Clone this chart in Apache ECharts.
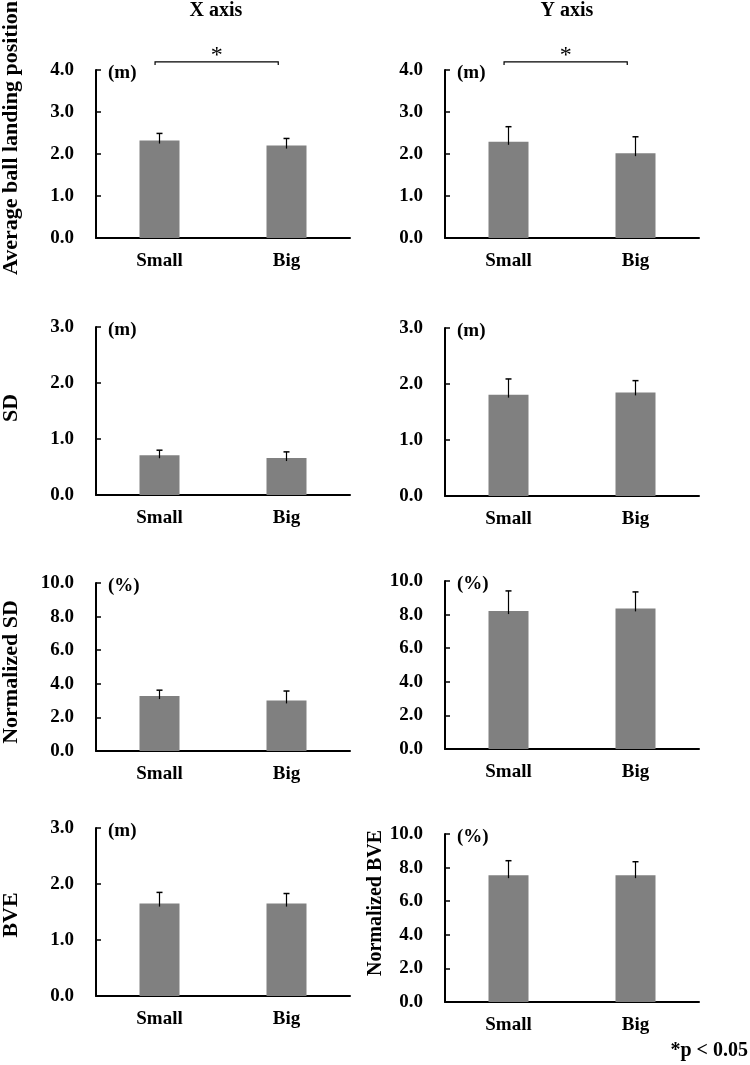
<!DOCTYPE html>
<html>
<head>
<meta charset="utf-8">
<script src="https://cdn.jsdelivr.net/npm/echarts@6/dist/echarts.min.js"></script>
<style>html,body{margin:0;padding:0;background:#fff;}#c{width:750px;height:1065px;}</style>
</head>
<body>
<div id="c"></div>
<script>
// ---- data ----
const categories = ['Small', 'Big'];
const colTitles = ['X axis', 'Y axis'];
const rowTitles = ['Average ball landing position', 'SD', 'Normalized SD', 'BVE', 'Normalized BVE'];

const avgPosX = [2.32, 2.20];   const avgPosXErr = [0.17, 0.17];
const avgPosY = [2.29, 2.02];   const avgPosYErr = [0.36, 0.39];
const sdX = [0.71, 0.66];       const sdXErr = [0.09, 0.11];
const sdY = [1.81, 1.85];       const sdYErr = [0.28, 0.21];
const normSdX = [3.27, 3.01];   const normSdXErr = [0.35, 0.56];
const normSdY = [8.21, 8.37];   const normSdYErr = [1.20, 0.98];
const bveX = [1.65, 1.65];      const bveXErr = [0.20, 0.18];
const normBveY = [7.55, 7.55];  const normBveYErr = [0.86, 0.80];

const yMaxes = [4, 4, 3, 3, 10, 10, 3, 10];
const yIntervals = [1, 1, 1, 1, 2, 2, 1, 2];
const units = ['(m)', '(m)', '(m)', '(m)', '(%)', '(%)', '(m)', '(%)'];
const significance = [true, true, false, false, false, false, false, false];
const footnote = '*p < 0.05';

const means = [avgPosX, avgPosY, sdX, sdY, normSdX, normSdY, bveX, normBveY];
const errs = [avgPosXErr, avgPosYErr, sdXErr, sdYErr, normSdXErr, normSdYErr, bveXErr, normBveYErr];

// ---- layout ----
const FONT = "'Liberation Serif','Times New Roman',serif";
const gridLefts = [96, 445];
const gridWidth = 254;
const gridTops = [70, 70, 327, 328, 583, 581, 828, 834];
const gridHeight = 168;

const chart = echarts.init(document.getElementById('c'), null, {renderer: 'canvas'});

const grids = [], xAxes = [], yAxes = [], series = [];
for (let i = 0; i < 8; i++) {
  grids.push({left: gridLefts[i % 2], top: gridTops[i], width: gridWidth, height: gridHeight, containLabel: false});
  xAxes.push({
    type: 'category', gridIndex: i, data: categories, boundaryGap: true,
    axisLine: {show: true, lineStyle: {color: '#000', width: 2}},
    axisTick: {show: false},
    axisLabel: {color: '#000', fontFamily: FONT, fontWeight: 'bold', fontSize: 19, margin: 14},
    splitLine: {show: false}
  });
  yAxes.push({
    type: 'value', gridIndex: i, min: 0, max: yMaxes[i], interval: yIntervals[i],
    axisLine: {show: true, lineStyle: {color: '#000', width: 2}},
    axisTick: {show: true, inside: true, length: 5, lineStyle: {color: '#000', width: 1.5}},
    axisLabel: {color: '#000', fontFamily: FONT, fontWeight: 'bold', fontSize: 19, margin: 22,
      formatter: v => v.toFixed(1)},
    splitLine: {show: false}
  });
  series.push({
    type: 'bar', xAxisIndex: i, yAxisIndex: i, data: means[i], barWidth: 40,
    itemStyle: {color: '#808080'}, silent: true
  });
  series.push({
    type: 'custom', xAxisIndex: i, yAxisIndex: i, z: 5, silent: true,
    data: categories.map((c, k) => [k, means[i][k], errs[i][k]]),
    renderItem: function (params, api) {
      const x = api.value(0), y = api.value(1), e = api.value(2);
      const base = api.coord([x, y]);
      const top = api.coord([x, y + e]);
      const cap = 3;
      return {type: 'group', children: [
        {type: 'line', shape: {x1: base[0], y1: base[1] + 3, x2: top[0], y2: top[1]}, style: {stroke: '#000', lineWidth: 1.2}},
        {type: 'line', shape: {x1: top[0] - cap, y1: top[1], x2: top[0] + cap, y2: top[1]}, style: {stroke: '#000', lineWidth: 1.5}}
      ]};
    }
  });
}

chart.setOption({animation: false, grid: grids, xAxis: xAxes, yAxis: yAxes, series: series});

// ---- annotations positioned via the chart's own scales ----
const txt = (x, y, text, size, align, rot, weight) => ({
  type: 'text', x: x, y: y, rotation: rot || 0, silent: true,
  style: {text: text, fill: '#000', font: (weight || 'bold') + ' ' + size + 'px ' + FONT,
    textAlign: align || 'center', textVerticalAlign: 'middle'}
});
const graphics = [];
for (let i = 0; i < 8; i++) {
  const f = {xAxisIndex: i, yAxisIndex: i};
  const topPt = chart.convertToPixel(f, [0, yMaxes[i]]);
  const axisX = gridLefts[i % 2];
  graphics.push(txt(axisX + 12, topPt[1] + 3, units[i], 19, 'left'));
  if (significance[i]) {
    const c0 = chart.convertToPixel(f, [0, 0])[0];
    const c1 = chart.convertToPixel(f, [1, 0])[0];
    const yb = chart.convertToPixel(f, [0, yMaxes[i] * 1.048])[1];
    const xa = c0 + (c1 - c0) * -0.035;
    const xb = c0 + (c1 - c0) * 0.935;
    graphics.push({type: 'polyline', silent: true,
      shape: {points: [[xa, yb + 3], [xa, yb], [xb, yb], [xb, yb + 3]]},
      style: {stroke: '#000', lineWidth: 1.2, fill: null}});
    graphics.push(txt((xa + xb) / 2, yb - 6, '*', 24, 'center', 0, 'normal'));
  }
}
graphics.push(txt(216, 11, colTitles[0], 20, 'center'));
graphics.push(txt(567, 11, colTitles[1], 20, 'center'));
graphics.push(txt(11, 138, rowTitles[0], 22, 'center', Math.PI / 2));
graphics.push(txt(11, 408, rowTitles[1], 22, 'center', Math.PI / 2));
graphics.push(txt(11, 672, rowTitles[2], 22, 'center', Math.PI / 2));
graphics.push(txt(11, 915, rowTitles[3], 22, 'center', Math.PI / 2));
graphics.push(txt(376, 903, rowTitles[4], 20, 'center', Math.PI / 2));
graphics.push(txt(748, 1051, footnote, 20, 'right'));
chart.setOption({graphic: graphics});
</script>
</body>
</html>
